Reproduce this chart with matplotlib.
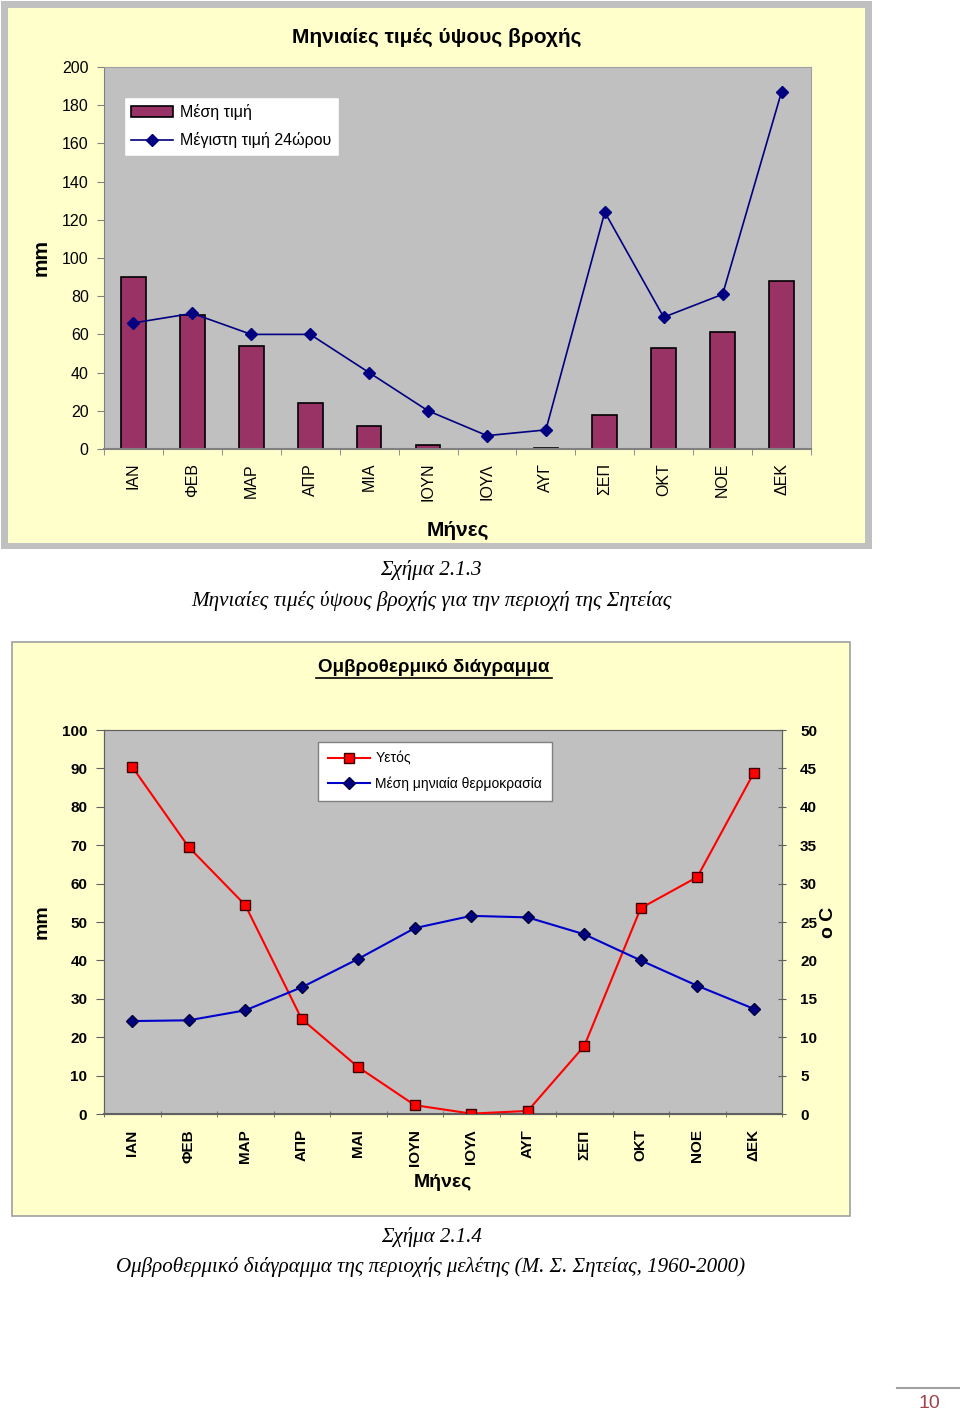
import matplotlib
matplotlib.use("Agg")
import matplotlib.pyplot as plt
import numpy as np
from matplotlib.patches import Rectangle

# data
months1 = ["ΙΑΝ", "ΦΕΒ", "ΜΑΡ", "ΑΠΡ", "ΜΙΑ", "ΙΟΥΝ", "ΙΟΥΛ", "ΑΥΓ", "ΣΕΠ", "ΟΚΤ", "ΝΟΕ", "ΔΕΚ"]
mean_rain = [90, 70, 54, 24, 12, 2, 0, 0.5, 18, 53, 61, 88]
max_24h = [66, 71, 60, 60, 40, 20, 7, 10, 124, 69, 81, 187]

months2 = ["ΙΑΝ", "ΦΕΒ", "ΜΑΡ", "ΑΠΡ", "ΜΑΙ", "ΙΟΥΝ", "ΙΟΥΛ", "ΑΥΓ", "ΣΕΠ", "ΟΚΤ", "ΝΟΕ", "ΔΕΚ"]
rain = [90.4, 69.5, 54.4, 24.7, 12.2, 2.3, 0.1, 0.8, 17.7, 53.6, 61.7, 88.8]
temp = [12.1, 12.2, 13.5, 16.5, 20.2, 24.2, 25.8, 25.6, 23.4, 20.0, 16.7, 13.7]

W, H = 960, 1418
plt.rcParams['font.family'] = ['Liberation Sans', 'DejaVu Sans']

fig = plt.figure(figsize=(W / 100, H / 100), dpi=100)
fig.patch.set_facecolor("white")


def rect(x0, y0, x1, y1):
    # pixel box -> figure fraction [left, bottom, width, height]
    return [x0 / W, 1 - y1 / H, (x1 - x0) / W, (y1 - y0) / H]


def fbox(x0, y0, x1, y1, fc, ec, lw):
    r = rect(x0, y0, x1, y1)
    fig.patches.append(Rectangle((r[0], r[1]), r[2], r[3], transform=fig.transFigure,
                                 facecolor=fc, edgecolor=ec, linewidth=lw, zorder=-10))


def ftext(x, y, s, **kw):
    fig.text(x / W, 1 - y / H, s, **kw)


yellow = "#ffffcc"

# ---------------- chart 1 ----------------
fbox(1, 1, 872, 549, "#c0c0c0", "none", 0)
fbox(8, 8, 865, 543, yellow, "none", 0)

ax1 = fig.add_axes(rect(104, 67, 811, 449))
ax1.set_facecolor("#c0c0c0")
x = np.arange(len(months1))
bars = ax1.bar(x, mean_rain, width=0.42, color="#993366", edgecolor="black", linewidth=1.2,
               label="Μέση τιμή", zorder=2)
line, = ax1.plot(x, max_24h, color="#000080", marker="D", markersize=6, linewidth=1.2,
                 label="Μέγιστη τιμή 24ώρου", zorder=3)
ax1.set_xlim(-0.5, 11.5)
ax1.set_ylim(0, 200)
ax1.set_yticks(range(0, 201, 20))
ax1.set_xticks(x)
ax1.set_xticklabels(months1, rotation=90, fontsize=11.5)
ax1.set_xticks(np.arange(-0.5, 12, 1), minor=True)
ax1.tick_params(axis="x", which="major", length=0, pad=10)
ax1.tick_params(axis="x", which="minor", length=4, color="#808080")
ax1.tick_params(axis="y", labelsize=11.5, length=5, color="#808080", pad=6)
for s in ["top", "right"]:
    ax1.spines[s].set_color("#a0a0a0")
ax1.spines["left"].set_color("#808080")
ax1.spines["bottom"].set_color("#808080")
ax1.spines["bottom"].set_linewidth(1.5)
ax1.set_ylabel("mm", fontsize=15, fontweight="bold", labelpad=8)
ax1.set_xlabel("Μήνες", fontsize=15, fontweight="bold", labelpad=14)
ftext(437, 37, "Μηνιαίες τιμές ύψους βροχής", ha="center", va="center", fontsize=15,
      fontweight="bold")
ax1.legend([bars, line], ["Μέση τιμή", "Μέγιστη τιμή 24ώρου"], loc="upper left",
           bbox_to_anchor=(0.028, 0.921), borderaxespad=0, fontsize=11.5,
           frameon=True, fancybox=False, edgecolor="#c0c0c0", facecolor="white",
           framealpha=1, borderpad=0.45, labelspacing=0.75, handlelength=2.6,
           handletextpad=0.5)

ftext(431, 570, "Σχήμα 2.1.3", ha="center", va="center", fontsize=15.2,
      family="Liberation Serif", style="italic")
ftext(431, 601, "Μηνιαίες τιμές ύψους βροχής για την περιοχή της Σητείας", ha="center",
      va="center", fontsize=15.2, family="Liberation Serif", style="italic")

# ---------------- chart 2 ----------------
fbox(12, 642, 850, 1216, yellow, "#a0a0a0", 1.2)

ax2 = fig.add_axes(rect(104, 730, 782, 1114))
ax2.set_facecolor("#c0c0c0")
x2 = np.arange(len(months2))
ax2.plot(x2, rain, color="#ff0000", marker="s", markersize=7, markerfacecolor="#ff0000",
         markeredgecolor="#400000", linewidth=1.5, label="Υετός", zorder=3)
ax2.set_xlim(-0.5, 11.5)
ax2.set_ylim(0, 100)
ax2.set_yticks(range(0, 101, 10))
ax2.set_xticks(x2)
ax2.set_xticklabels(months2, rotation=90, fontsize=11, fontweight="bold")
ax2.set_xticks(np.arange(-0.5, 12, 1), minor=True)
ax2.tick_params(axis="x", which="major", length=0, pad=11)
ax2.tick_params(axis="x", which="minor", length=4, direction="inout", color="#606060")
ax2.tick_params(axis="y", labelsize=11, length=6, color="#606060", pad=6)
for lab in ax2.get_yticklabels():
    lab.set_fontweight("bold")
for s in ax2.spines.values():
    s.set_color("#606060")
ax2.spines["bottom"].set_linewidth(1.5)
ax2.set_ylabel("mm", fontsize=14, fontweight="bold", labelpad=8)
ax2.set_xlabel("Μήνες", fontsize=14, fontweight="bold", labelpad=6)

ax3 = ax2.twinx()
ax3.plot(x2, temp, color="#0000cc", marker="D", markersize=6, markerfacecolor="#000080",
         markeredgecolor="#000040", linewidth=1.5, label="Μέση μηνιαία θερμοκρασία", zorder=3)
ax3.set_ylim(0, 50)
ax3.set_yticks(range(0, 51, 5))
ax3.tick_params(axis="y", labelsize=11, length=6, direction="inout", color="#606060", pad=10)
for lab in ax3.get_yticklabels():
    lab.set_fontweight("bold")
for s in ax3.spines.values():
    s.set_color("#606060")
ax3.set_ylabel("o C", fontsize=14, fontweight="bold", labelpad=2)

h1, l1 = ax2.get_legend_handles_labels()
h2, l2 = ax3.get_legend_handles_labels()
ax3.legend(h1 + h2, l1 + l2, loc="upper left", bbox_to_anchor=(0.316, 0.969),
           borderaxespad=0, fontsize=10, frameon=True, fancybox=False,
           edgecolor="#808080", facecolor="white", framealpha=1, borderpad=0.7,
           labelspacing=0.8, handlelength=3.0, handletextpad=0.4)

# title with underline
ftext(434, 668, "Ομβροθερμικό διάγραμμα", ha="center", va="center", fontsize=13.5,
      fontweight="bold")
fig.lines.append(plt.Line2D([316 / W, 552 / W], [1 - 678 / H, 1 - 678 / H],
                            transform=fig.transFigure, color="black", linewidth=1.2))

ftext(431, 1237, "Σχήμα 2.1.4", ha="center", va="center", fontsize=15.1,
      family="Liberation Serif", style="italic")
ftext(431, 1267, "Ομβροθερμικό διάγραμμα της περιοχής μελέτης (Μ. Σ. Σητείας, 1960-2000)",
      ha="center", va="center", fontsize=15.1, family="Liberation Serif", style="italic")

# page number
fig.lines.append(plt.Line2D([897 / W, 960 / W], [1 - 1388 / H, 1 - 1388 / H],
                            transform=fig.transFigure, color="#a0a0a0", linewidth=1.5))
ftext(929, 1403, "10", ha="center", va="center", fontsize=14, color="#a0444a")

fig.savefig("out.png", dpi=100, facecolor="white")
